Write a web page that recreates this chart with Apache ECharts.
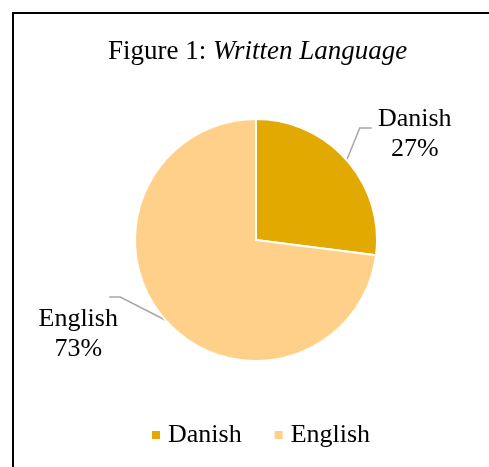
<!DOCTYPE html>
<html>
<head>
<meta charset="utf-8">
<style>
  html, body { margin: 0; padding: 0; background: #fff; }
  #chart { width: 489px; height: 467px; }
</style>
<script src="https://cdn.jsdelivr.net/npm/echarts@6/dist/echarts.min.js"></script>
</head>
<body>
<div id="chart"></div>
<script>
// Written language shares
const categories = ['Danish', 'English'];
const shares = [27, 73];
const colors = ['#E2AA00', '#FFD08A'];

const serif = '"Liberation Serif", "Times New Roman", serif';

const chart = echarts.init(document.getElementById('chart'), null, { renderer: 'canvas' });

chart.setOption({
  animation: false,
  backgroundColor: '#fff',
  graphic: [{
    type: 'rect',
    shape: { x: 13, y: 13, width: 600, height: 600 },
    style: { fill: 'none', stroke: '#000', lineWidth: 2 },
    silent: true
  }],
  title: {
    left: 103,
    top: 33,
    text: '{n|Figure 1: }{i|Written Language}',
    textStyle: {
      rich: {
        n: { fontFamily: serif, fontSize: 27, fontWeight: 'normal', color: '#000' },
        i: { fontFamily: serif, fontSize: 27, fontWeight: 'normal', fontStyle: 'italic', color: '#000' }
      }
    }
  },
  legend: {
    bottom: 19,
    left: 152,
    padding: 0,
    itemWidth: 8,
    itemHeight: 8,
    itemGap: 33,
    icon: 'rect',
    itemStyle: { borderWidth: 0 },
    textStyle: { fontFamily: serif, fontSize: 26, color: '#000', padding: [0, 0, 0, 3] },
    data: categories
  },
  series: [{
    type: 'pie',
    center: [256, 240],
    radius: 121,
    startAngle: 90,
    clockwise: true,
    itemStyle: { borderColor: '#fff', borderWidth: 2 },
    label: {
      show: true,
      position: 'outside',
      formatter: '{b}\n{d}%',
      fontFamily: serif,
      fontSize: 26,
      lineHeight: 30,
      color: '#000',
      align: 'center'
    },
    labelLine: {
      show: true,
      length: 30,
      length2: 12,
      lineStyle: { color: '#A6A6A6', width: 1.5 }
    },
    labelLayout: function (params) {
      const pts = params.labelLinePoints;
      if (!pts) return {};
      const p0 = pts[0];
      const onRight = pts[2][0] > pts[1][0];
      if (onRight) {
        const p1 = [p0[0] + 13, p0[1] - 32];
        const p2 = [p1[0] + 12, p1[1]];
        return {
          x: p2[0] + 43, y: p2[1] + 6,
          align: 'center', verticalAlign: 'middle',
          labelLinePoints: [p0, p1, p2]
        };
      }
      const p1 = [p0[0] - 45, p0[1] - 23];
      const p2 = [p1[0] - 11, p1[1]];
      return {
        x: p2[0] - 31, y: p2[1] + 37,
        align: 'center', verticalAlign: 'middle',
        labelLinePoints: [p0, p1, p2]
      };
    },
    data: categories.map((name, i) => ({
      name: name,
      value: shares[i],
      itemStyle: { color: colors[i] }
    }))
  }]
});
</script>
</body>
</html>
